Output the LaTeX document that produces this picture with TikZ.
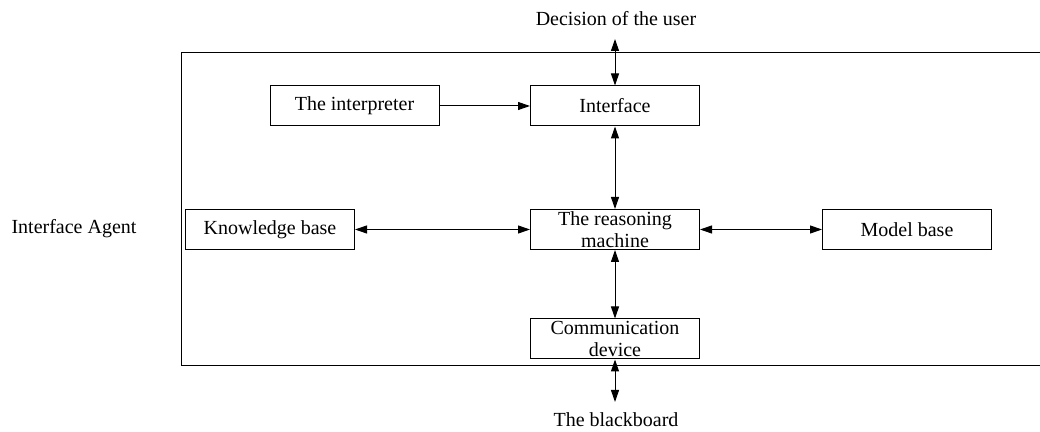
\documentclass[tikz,border=0pt]{standalone}
\usepackage{fontspec}
\setmainfont{Liberation Serif}
\usepackage{tikz}
\usetikzlibrary{arrows.meta,positioning}

\begin{document}
\begin{tikzpicture}[
  x=0.5pt, y=-0.5pt,
  box/.style={draw, minimum width=84.5pt, minimum height=20pt, inner sep=0.5pt,
              align=center, font=\fontsize{10}{11}\selectfont},
  lbl/.style={font=\fontsize{10}{11}\selectfont},
  >={Triangle[length=6pt,width=4pt]}, line width=0.5pt
]
  \useasboundingbox (0,0) rectangle (1040,432);

  % agent frame, open on the right
  \draw (1040,53) -- (181,53) -- (181,366) -- (1040,366);

  \node[box] (interp) at (354.5,106) {The interpreter};
  \node[box] (iface) at (615,106) {Interface};
  \node[box] (kb) at (270,229.5) {Knowledge base};
  \node[box] (reason) at (615,229.5) {The reasoning\\machine};
  \node[box] (model) at (907,229.5) {Model base};
  \node[box] (comm) at (615,339) {Communication\\device};

  \node[lbl] (user) at (616,19) {Decision of the user};
  \node[lbl] (board) at (616,420) {The blackboard};
  \node[lbl] (agent) at (74,229) {Interface Agent};

  \coordinate (utip) at (615,39);
  \coordinate (btip) at (615,402);

  \draw[<->] (utip) -- (iface);
  \draw[->] (interp) -- (iface);
  \draw[<->] (iface) -- (reason);
  \draw[<->] (kb) -- (reason);
  \draw[<->] (reason) -- (model);
  \draw[<->] (reason) -- (comm);
  \draw[<->] (comm) -- (btip);
\end{tikzpicture}
\end{document}
